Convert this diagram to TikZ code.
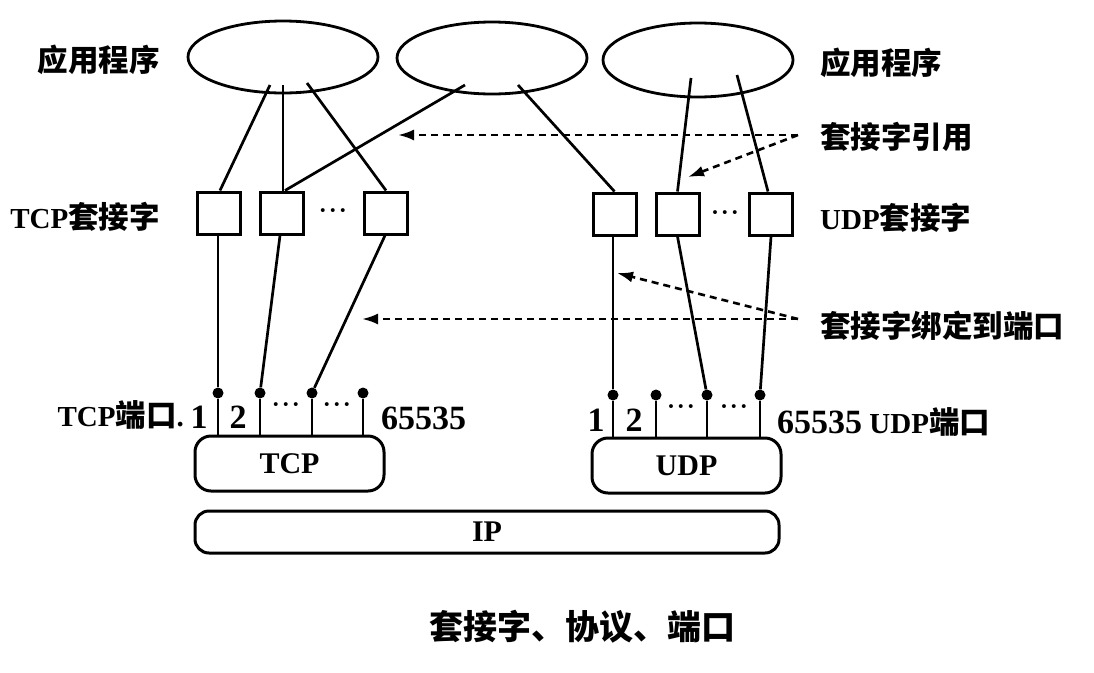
\documentclass[tikz,border=0pt]{standalone}
\usepackage{fontspec}
\setmainfont{Liberation Serif}
\newfontfamily\cjk{Noto Sans CJK SC}
\usetikzlibrary{arrows.meta,shapes.geometric}
\newcommand\mylat[1]{{\fontsize{29}{29}\selectfont\bfseries #1}}
\newcommand\mynum[1]{{\fontsize{34}{34}\selectfont\bfseries #1}}
\newcommand\mycjk[1]{{\cjk\bfseries\fontsize{30.5}{30.5}\selectfont #1}}
\newcommand\mydots{{\fontsize{24}{24}\selectfont\bfseries ·\hspace{2pt}·\hspace{2pt}·}}
\begin{document}
\begin{tikzpicture}[x=1pt,y=-1pt,
  app/.style={draw, line width=2.8pt, ellipse, minimum width=190pt, minimum height=72pt, inner sep=0},
  sock/.style={draw, line width=3pt, minimum width=43pt, minimum height=42pt, inner sep=0},
  link/.style={line width=2.7pt},
  port/.style={circle, fill, inner sep=0, minimum size=11pt},
  proto/.style={draw, line width=3pt, rounded corners=16pt, inner sep=0, font=\bfseries\fontsize{30}{30}\selectfont},
  txt/.style={inner sep=0},
  dasharrow/.style={line width=2.6pt, dash pattern=on 7pt off 5pt, -{Latex[length=16pt,width=11pt]}},
]
\useasboundingbox (0,0) rectangle (1094,672);

% applications
\node[app] (app1) at (283,57) {};
\node[app] (app2) at (492,58) {};
\node[app, minimum height=74pt] (app3) at (698,60) {};

% sockets
\node[sock] (t1) at (218.5,213) {};
\node[sock] (t2) at (281.5,213) {};
\node[sock] (t3) at (386,213) {};
\node[txt] (tdots) at (333,214) {\mydots};
\node[sock] (u1) at (614.5,214) {};
\node[sock] (u2) at (677.5,214) {};
\node[sock] (u3) at (771,214) {};
\node[txt] (udots) at (725,216) {\mydots};

% protocol boxes
\node[proto, minimum width=189pt, minimum height=55pt] (tcp) at (289.5,463.5) {TCP};
\node[proto, minimum width=189pt, minimum height=55pt] (udp) at (686.5,465.5) {UDP};
\node[proto, rounded corners=14pt, minimum width=584pt, minimum height=42pt] (ip) at (487,532) {IP};

% ports
\node[port] (p1) at (218,393) {};
\node[port] (p2) at (260,393) {};
\node[port] (p3) at (312,393) {};
\node[port] (p4) at (363,393) {};
\node[port] (q1) at (613,395) {};
\node[port] (q2) at (656,395) {};
\node[port] (q3) at (707,395) {};
\node[port] (q4) at (760,395) {};
\foreach \p in {p1,p2,p3,p4} \draw[link] (\p) -- (\p |- tcp.north);
\foreach \q in {q1,q2,q3,q4} \draw[link] (\q) -- (\q |- udp.north);

% app -> socket links
\coordinate (e1a) at (270,85);
\coordinate (e1b) at (283,85);
\coordinate (e1c) at (307,83);
\coordinate (e2a) at (465,85);
\coordinate (e2b) at (518,85);
\coordinate (e3a) at (691,78);
\coordinate (e3b) at (737,75);
\draw[link] (e1a) -- ([xshift=1.5pt]t1.north);
\draw[link] (e1b) -- ([xshift=1.5pt]t2.north);
\draw[link] (e1c) -- (t3.north);
\draw[link] (e2a) -- ([xshift=3.5pt]t2.north);
\draw[link] (e2b) -- (u1.north);
\draw[link] (e3a) -- (u2.north);
\draw[link] (e3b) -- ([xshift=-3pt]u3.north);

% socket -> port links
\draw[link] ([xshift=-0.5pt]t1.south) -- (p1);
\draw[link] ([xshift=-1.5pt]t2.south) -- (p2);
\draw[link] ([xshift=-1pt]t3.south) -- (p3);
\draw[link] ([xshift=-1.5pt]u1.south) -- (q1);
\draw[link] (u2.south) -- (q3);
\draw[link] (u3.south) -- (q4);

% dashed arrows
\coordinate (s1) at (798,135);
\coordinate (s2) at (798,319);
\coordinate (a1) at (398,135);
\coordinate (a2) at (688,177);
\coordinate (b1) at (362,319);
\coordinate (b2) at (617,273);
\draw[dasharrow] (s1) -- (a1);
\draw[dasharrow] (s1) -- (a2);
\draw[dasharrow] (s2) -- (b1);
\draw[dasharrow] (s2) -- (b2);

% labels
\node[txt, anchor=east] (lapp1) at (160,60) {\mycjk{应用程序}};
\node[txt, anchor=west] (lapp3) at (820,63) {\mycjk{应用程序}};
\node[txt, anchor=east] (ltsock) at (160,217) {\mylat{TCP}\mycjk{套接字}};
\node[txt, anchor=west] (lusock) at (820,218) {\mylat{UDP}\mycjk{套接字}};
\node[txt, anchor=west] (lref) at (820,137) {\mycjk{套接字引用}};
\node[txt, anchor=west] (lbind) at (820,326) {\mycjk{套接字绑定到端口}};

\node[txt, anchor=east] (ltport) at (184,415) {\mylat{TCP}\mycjk{端口}\mylat{.}};
\node[txt] (tn1) at (199,417) {\mynum{1}};
\node[txt] (tn2) at (238,417) {\mynum{2}};
\node[txt] (td1) at (286,408) {\mydots};
\node[txt] (td2) at (337,408) {\mydots};
\node[txt, anchor=west] (tn3) at (381,418) {\mynum{65535}};

\node[txt] (un1) at (596,420) {\mynum{1}};
\node[txt] (un2) at (634,420) {\mynum{2}};
\node[txt] (ud1) at (681,410) {\mydots};
\node[txt] (ud2) at (734,410) {\mydots};
\node[txt, anchor=west] (un3) at (777,422) {\mynum{65535}\mylat{ UDP}\mycjk{端口}};

\node[txt] (caption) at (582,627) {{\cjk\bfseries\fontsize{34}{34}\selectfont 套接字、协议、端口}};
\end{tikzpicture}
\end{document}
